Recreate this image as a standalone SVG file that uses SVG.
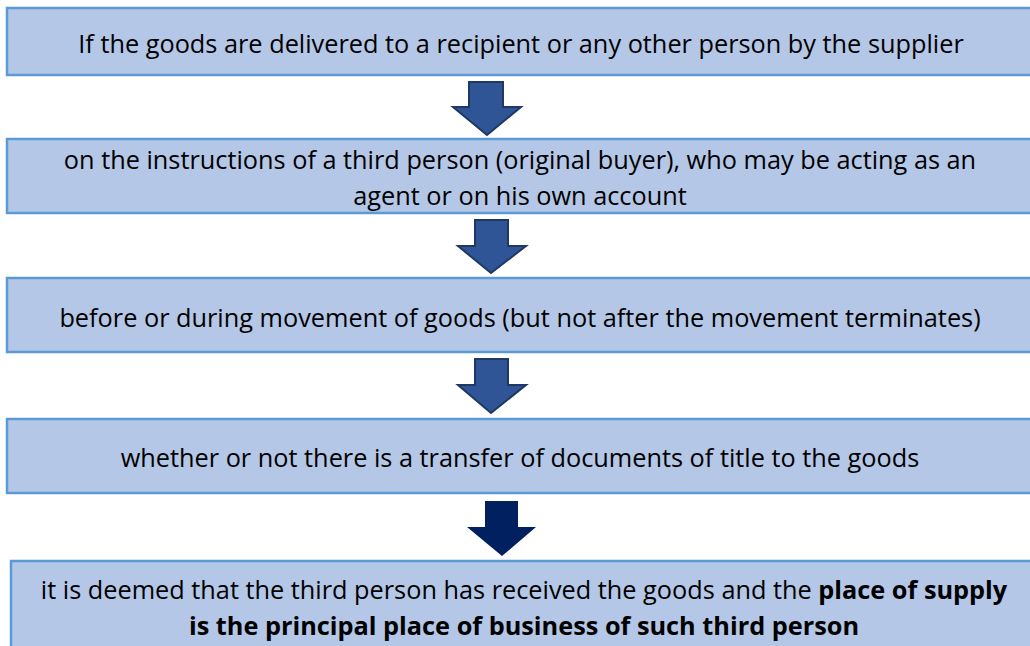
<svg xmlns="http://www.w3.org/2000/svg" width="1030" height="646" viewBox="0 0 1030 646">
<style>
.box{fill:#b4c7e7;stroke:#5b9bd5;stroke-width:2.5}
.t{font-family:"Open Sans","Noto Sans",sans-serif;font-size:25.3px;fill:#000;text-anchor:middle}
.b{font-weight:bold}
.arr{fill:#2f5597;stroke:#1f3864;stroke-width:2;stroke-linejoin:miter}
.arr2{fill:#002060;stroke:none}
</style>
<rect width="1030" height="646" fill="#fff"/>
<g id="node1"><rect class="box" x="7" y="8" width="1030" height="67"/><text class="t" x="521" y="53">If the goods are delivered to a recipient or any other person by the supplier</text></g>
<g id="node2"><rect class="box" x="7" y="139" width="1030" height="74"/><text class="t" x="520" y="169">on the instructions of a third person (original buyer), who may be acting as an</text><text class="t" x="520" y="205">agent or on his own account</text></g>
<g id="node3"><rect class="box" x="7" y="278" width="1030" height="74"/><text class="t" x="520" y="327">before or during movement of goods (but not after the movement terminates)</text></g>
<g id="node4"><rect class="box" x="7" y="419" width="1030" height="74"/><text class="t" x="520" y="467">whether or not there is a transfer of documents of title to the goods</text></g>
<g id="node5"><rect class="box" x="11" y="561" width="1030" height="100"/><text class="t" x="524" y="599">it is deemed that the third person has received the goods and the <tspan class="b">place of supply</tspan></text><text class="t b" x="524" y="635">is the principal place of business of such third person</text></g>
<g id="connectors">
<polygon class="arr" points="469,82 503,82 503,107 521,107 487,135 453,107 469,107"/>
<polygon class="arr" points="475,220 508,220 508,246 526,246 491,273 458,246 475,246"/>
<polygon class="arr" points="475,359 508,359 508,385 526,385 491,413 458,385 475,385"/>
<polygon class="arr2" points="485,501 518,501 518,527 536,527 502,556 467,527 485,527"/>
</g>
</svg>
